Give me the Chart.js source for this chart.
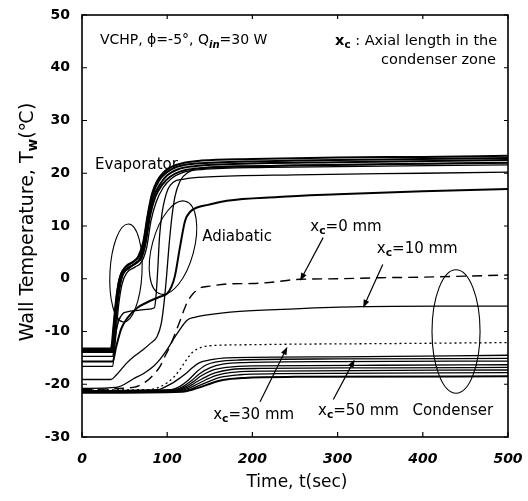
<!DOCTYPE html>
<html><head><meta charset="utf-8">
<script src="https://cdn.jsdelivr.net/npm/chart.js@4.4.1/dist/chart.umd.min.js"></script>
<style>html,body{margin:0;padding:0;background:#fff;}#wrap{width:528px;height:501px;position:relative;}</style>
</head><body><div id="wrap"><canvas id="c" width="528" height="501"></canvas></div>
<script>
// ---- axis ticks ----
const timeTicks = [0, 100, 200, 300, 400, 500];
const tempTicks = [-30, -20, -10, 0, 10, 20, 30, 40, 50];

// ---- evaporator zone (time s, temperature C) ----
const evap1 = [[0,-13.2],[34,-13.2],[37,-9],[40,-4],[44,0],[50,2],[58,3],[66,4.2],[72,7],[77,12],[82,16],[88,18.5],[96,20.2],[105,21.2],[120,22],[140,22.4],[200,22.7],[300,23],[400,23.1],[500,23.3]];
const evap2 = [[0,-13.4],[35,-13.4],[38,-8],[41,-3],[45,0.5],[52,2.4],[60,3.2],[68,4.6],[73,7.5],[78,12.5],[83,16],[90,18.5],[98,20],[108,21],[125,21.7],[150,22],[250,22.4],[400,22.7],[500,22.9]];
const evap3 = [[0,-13.6],[35,-13.6],[38,-9],[42,-3],[46,0],[52,1.8],[60,2.6],[68,3.8],[74,7],[79,12],[84,15.5],[92,18],[100,19.6],[112,20.7],[130,21.3],[170,21.7],[300,22.1],[500,22.5]];
const evap4 = [[0,-13.9],[36,-13.9],[39,-9],[43,-3],[47,0.5],[55,2],[63,3],[70,4],[75,7],[80,12],[86,15.5],[94,17.8],[103,19.3],[115,20.3],[135,20.9],[200,21.3],[350,21.7],[500,22]];
const evap5 = [[0,-16.6],[36,-16.6],[39,-12],[43,-5],[47,-1],[53,1.2],[62,2.2],[70,3.2],[76,6],[81,11],[87,14.5],[95,17.2],[105,19],[118,20.1],[140,20.7],[220,21.1],[500,21.6]];

// ---- adiabatic zone ----
const adia1 = [[0,-14.7],[36,-14.7],[39,-11],[43,-8],[48,-6.6],[53,-6.3],[65,-6],[76,-5.8],[85,-5.5],[87,-3],[89,2],[91,8],[94,12.5],[97,15],[101,17],[107,18.3],[120,18.9],[148,19.3],[250,19.7],[400,20],[500,20.2]];
const adia2 = [[0,-15.7],[36,-15.7],[40,-13],[46,-9.5],[53,-7.5],[65,-5.5],[76,-4.5],[90,-3.5],[100,-2.8],[105,-1.5],[109,0.5],[115,6],[121,11],[127,12.7],[135,13.5],[148,14],[170,14.8],[230,15.5],[300,16],[400,16.6],[500,17]];
const adia3 = [[0,-19.1],[34,-19.1],[40,-18.3],[47,-17],[53,-15.9],[62,-14.6],[72,-13.4],[80,-12.3],[88,-11],[93,-8.5],[96,-5],[99,0],[102,6],[105,11],[109,15.5],[115,18.5],[125,20.2],[140,21],[200,21.4],[350,21.7],[500,22]];

// ---- condenser zone, x_c = axial length ----
const cond0 = [[0,-21],[60,-20.6],[75,-19.5],[85,-18],[92,-16.5],[98,-14.5],[103,-12.9],[109,-10.5],[115,-8],[120,-5.8],[124,-4.3],[130,-2.9],[138,-1.8],[150,-1.4],[170,-1],[200,-0.9],[220,-0.7],[256,-0.1],[300,0],[350,0.2],[400,0.3],[450,0.5],[500,0.7]];
const cond10 = [[0,-20.8],[40,-20.6],[50,-20],[60,-19],[72,-18],[84,-16.6],[92,-15.2],[100,-13.4],[108,-11.3],[115,-9.6],[123,-7.9],[132,-7.3],[145,-6.9],[185,-6.2],[250,-5.7],[326,-5.3],[420,-5.2],[500,-5.2]];
const cond30 = [[0,-21.1],[80,-21],[90,-20.6],[100,-19.7],[108,-18.6],[115,-17.2],[122,-15.5],[130,-13.9],[140,-13],[150,-12.7],[200,-12.5],[250,-12.4],[350,-12.3],[500,-12.1]];
const cond40 = [[0,-21.2],[90,-21],[100,-20.3],[107,-19.7],[115,-18.8],[123,-17.8],[130,-16.8],[138,-15.9],[150,-15.4],[170,-15],[300,-14.8],[500,-14.5]];
const cond50 = [[0,-21.2],[105,-21],[115,-20.4],[125,-19.2],[135,-17.6],[145,-16.4],[160,-15.7],[185,-15.4],[300,-15.2],[500,-15.1]];
const cond60 = [[0,-21.3],[108,-21.1],[118,-20.5],[128,-19.4],[138,-18],[150,-16.9],[165,-16.2],[190,-15.9],[300,-15.7],[500,-15.6]];
const cond70 = [[0,-21.3],[110,-21.1],[120,-20.6],[130,-19.6],[140,-18.4],[152,-17.4],[170,-16.8],[200,-16.5],[350,-16.4],[500,-16.3]];
const cond80 = [[0,-21.4],[112,-21.2],[122,-20.7],[132,-19.8],[143,-18.8],[155,-17.9],[175,-17.2],[210,-17],[350,-16.9],[500,-16.8]];
const cond90 = [[0,-21.4],[114,-21.2],[125,-20.8],[135,-20],[146,-19.1],[158,-18.3],[180,-17.7],[220,-17.5],[500,-17.3]];
const cond100 = [[0,-21.5],[116,-21.3],[128,-20.9],[138,-20.2],[150,-19.4],[162,-18.7],[185,-18.2],[230,-18],[500,-17.8]];
const cond110 = [[0,-21.6],[118,-21.4],[130,-21],[140,-20.5],[152,-19.8],[165,-19.2],[190,-18.8],[250,-18.6],[500,-18.5]];

// ---- series list and styles ----
const seriesList = [
  ['evap1', evap1, 'thick'], ['evap2', evap2, 'thick'], ['evap3', evap3, 'thick'], ['evap4', evap4, 'thick'], ['evap5', evap5, 'solid'],
  ['adia1', adia1, 'solid'], ['adia2', adia2, 'thick'], ['adia3', adia3, 'solid'],
  ['cond0', cond0, 'dashed'], ['cond10', cond10, 'solid'], ['cond30', cond30, 'dotted'],
  ['cond40', cond40, 'solid'], ['cond50', cond50, 'solid'], ['cond60', cond60, 'solid'], ['cond70', cond70, 'solid'],
  ['cond80', cond80, 'solid'], ['cond90', cond90, 'solid'], ['cond100', cond100, 'solid'], ['cond110', cond110, 'thick']
];
const lineStyles = {
  thick:  {borderWidth: 2.0, borderDash: []},
  solid:  {borderWidth: 1.3, borderDash: []},
  dashed: {borderWidth: 1.4, borderDash: [10, 6]},
  dotted: {borderWidth: 1.3, borderDash: [2, 3]}
};

// ---- annotations (data coordinates) ----
const ellipses = [
  {t: 51.6, v: 1.1, rt: 18.8, rv: 9.3, rot: 3},
  {t: 106.8, v: 5.9, rt: 24.6, rv: 9.1, rot: 15},
  {t: 439, v: -10, rt: 28.2, rv: 11.7, rot: 0}
];
const arrows = [
  {from: [283, 7.8], to: [256, -0.4]},
  {from: [353, 2.7], to: [330, -5.5]},
  {from: [209, -23.3], to: [241, -12.9]},
  {from: [295, -22.9], to: [320, -15.3]}
];
const FONT = "'DejaVu Sans', 'Liberation Sans', Arial, sans-serif";
const labels = [
  {t: 21, v: 45.1, size: 14, segs: [{s: 'VCHP, ϕ=-5°, Q'}, {s: 'in', sub: true, bold: true, italic: true}, {s: '=30 W'}]},
  {t: 297, v: 45.1, size: 14.5, segs: [{s: 'x', bold: true}, {s: 'c', sub: true, bold: true}, {s: ' : Axial length in the'}]},
  {t: 351, v: 41.5, size: 14.5, segs: [{s: 'condenser zone'}]},
  {t: 15.3, v: 21.6, size: 15, segs: [{s: 'Evaporator'}]},
  {t: 141, v: 7.8, size: 15, segs: [{s: 'Adiabatic'}]},
  {t: 268, v: 9.8, size: 15, segs: [{s: 'x'}, {s: 'c', sub: true, bold: true}, {s: '=0 mm'}]},
  {t: 346, v: 5.7, size: 15, segs: [{s: 'x'}, {s: 'c', sub: true, bold: true}, {s: '=10 mm'}]},
  {t: 154, v: -25.8, size: 15, segs: [{s: 'x'}, {s: 'c', sub: true, bold: true}, {s: '=30 mm'}]},
  {t: 277, v: -25, size: 15, segs: [{s: 'x'}, {s: 'c', sub: true, bold: true}, {s: '=50 mm'}]},
  {t: 388, v: -25, size: 15, segs: [{s: 'Condenser'}]}
];

function segFont(seg, size) {
  const sz = seg.sub ? size * 0.72 : size;
  return (seg.italic ? 'italic ' : '') + (seg.bold ? 'bold ' : '') + sz + 'px ' + FONT;
}
function drawRich(ctx, x, y, segs, size, align) {
  ctx.save();
  ctx.textBaseline = 'middle';
  ctx.textAlign = 'left';
  let total = 0;
  segs.forEach(sg => { ctx.font = segFont(sg, size); total += ctx.measureText(sg.s).width; });
  let cx = align === 'center' ? x - total / 2 : x;
  segs.forEach(sg => {
    ctx.font = segFont(sg, size);
    ctx.fillText(sg.s, cx, sg.sub ? y + size * 0.3 : y);
    cx += ctx.measureText(sg.s).width;
  });
  ctx.restore();
}

const decorPlugin = {
  id: 'decor',
  afterDatasetsDraw(chart) {
    const ctx = chart.ctx;
    const xs = chart.scales.x, ys = chart.scales.y;
    const a = chart.chartArea;
    ctx.save();
    ctx.strokeStyle = '#000';
    ctx.fillStyle = '#000';
    // frame
    ctx.lineWidth = 1.6;
    ctx.strokeRect(a.left, a.top, a.right - a.left, a.bottom - a.top);
    // inward ticks
    ctx.lineWidth = 1.2;
    timeTicks.forEach(t => {
      const px = xs.getPixelForValue(t);
      ctx.beginPath(); ctx.moveTo(px, a.bottom); ctx.lineTo(px, a.bottom - 5);
      ctx.moveTo(px, a.top); ctx.lineTo(px, a.top + 4); ctx.stroke();
    });
    tempTicks.forEach(v => {
      const py = ys.getPixelForValue(v);
      ctx.beginPath(); ctx.moveTo(a.left, py); ctx.lineTo(a.left + 5, py);
      ctx.moveTo(a.right, py); ctx.lineTo(a.right - 4, py); ctx.stroke();
    });
    // ellipses
    ctx.lineWidth = 1.1;
    ellipses.forEach(e => {
      const cx = xs.getPixelForValue(e.t), cy = ys.getPixelForValue(e.v);
      const rx = Math.abs(xs.getPixelForValue(e.t + e.rt) - cx);
      const ry = Math.abs(ys.getPixelForValue(e.v + e.rv) - cy);
      ctx.beginPath();
      ctx.ellipse(cx, cy, rx, ry, e.rot * Math.PI / 180, 0, Math.PI * 2);
      ctx.stroke();
    });
    // arrows
    arrows.forEach(ar => {
      const x1 = xs.getPixelForValue(ar.from[0]), y1 = ys.getPixelForValue(ar.from[1]);
      const x2 = xs.getPixelForValue(ar.to[0]), y2 = ys.getPixelForValue(ar.to[1]);
      const ang = Math.atan2(y2 - y1, x2 - x1);
      ctx.lineWidth = 1.2;
      ctx.beginPath(); ctx.moveTo(x1, y1); ctx.lineTo(x2 - 5 * Math.cos(ang), y2 - 5 * Math.sin(ang)); ctx.stroke();
      ctx.beginPath();
      ctx.moveTo(x2, y2);
      ctx.lineTo(x2 - 8 * Math.cos(ang) + 3 * Math.sin(ang), y2 - 8 * Math.sin(ang) - 3 * Math.cos(ang));
      ctx.lineTo(x2 - 8 * Math.cos(ang) - 3 * Math.sin(ang), y2 - 8 * Math.sin(ang) + 3 * Math.cos(ang));
      ctx.closePath(); ctx.fill();
    });
    // labels
    labels.forEach(l => {
      drawRich(ctx, xs.getPixelForValue(l.t), ys.getPixelForValue(l.v), l.segs, l.size, 'left');
    });
    // axis titles
    drawRich(ctx, 297, 483, [{s: 'Time, t(sec)'}], 17, 'center');
    ctx.save();
    ctx.translate(28, 222);
    ctx.rotate(-Math.PI / 2);
    drawRich(ctx, 0, 0, [{s: 'Wall Temperature, T'}, {s: 'w', sub: true, bold: true}, {s: '(℃)'}], 19, 'center');
    ctx.restore();
    ctx.restore();
  }
};

const datasets = seriesList.map(([name, pts, kind]) => ({
  label: name,
  data: pts.map(p => ({x: p[0], y: p[1]})),
  borderColor: '#000',
  backgroundColor: '#000',
  borderWidth: lineStyles[kind].borderWidth,
  borderDash: lineStyles[kind].borderDash,
  pointRadius: 0,
  fill: false,
  cubicInterpolationMode: 'monotone'
}));

new Chart(document.getElementById('c'), {
  type: 'line',
  data: {datasets},
  options: {
    responsive: false,
    animation: false,
    devicePixelRatio: 1,
    layout: {padding: {top: 15, right: 20, left: 0, bottom: 0}},
    plugins: {legend: {display: false}, tooltip: {enabled: false}},
    scales: {
      x: {
        type: 'linear', min: 0, max: 500,
        afterFit: s => { s.height = 64; s.paddingLeft = 0; s.paddingRight = 0; },
        afterBuildTicks: s => { s.ticks = timeTicks.map(v => ({value: v})); },
        grid: {display: false, drawTicks: false},
        border: {display: false},
        ticks: {padding: 14, color: '#000', maxRotation: 0, font: {family: FONT, size: 14, weight: 'bold', style: 'italic'}}
      },
      y: {
        type: 'linear', min: -30, max: 50,
        afterFit: s => { s.width = 82; s.paddingTop = 0; s.paddingBottom = 0; },
        afterBuildTicks: s => { s.ticks = tempTicks.map(v => ({value: v})); },
        grid: {display: false, drawTicks: false},
        border: {display: false},
        ticks: {padding: 12, color: '#000', font: {family: FONT, size: 14, weight: 'bold'}}
      }
    }
  },
  plugins: [decorPlugin]
});
</script>
</body></html>
